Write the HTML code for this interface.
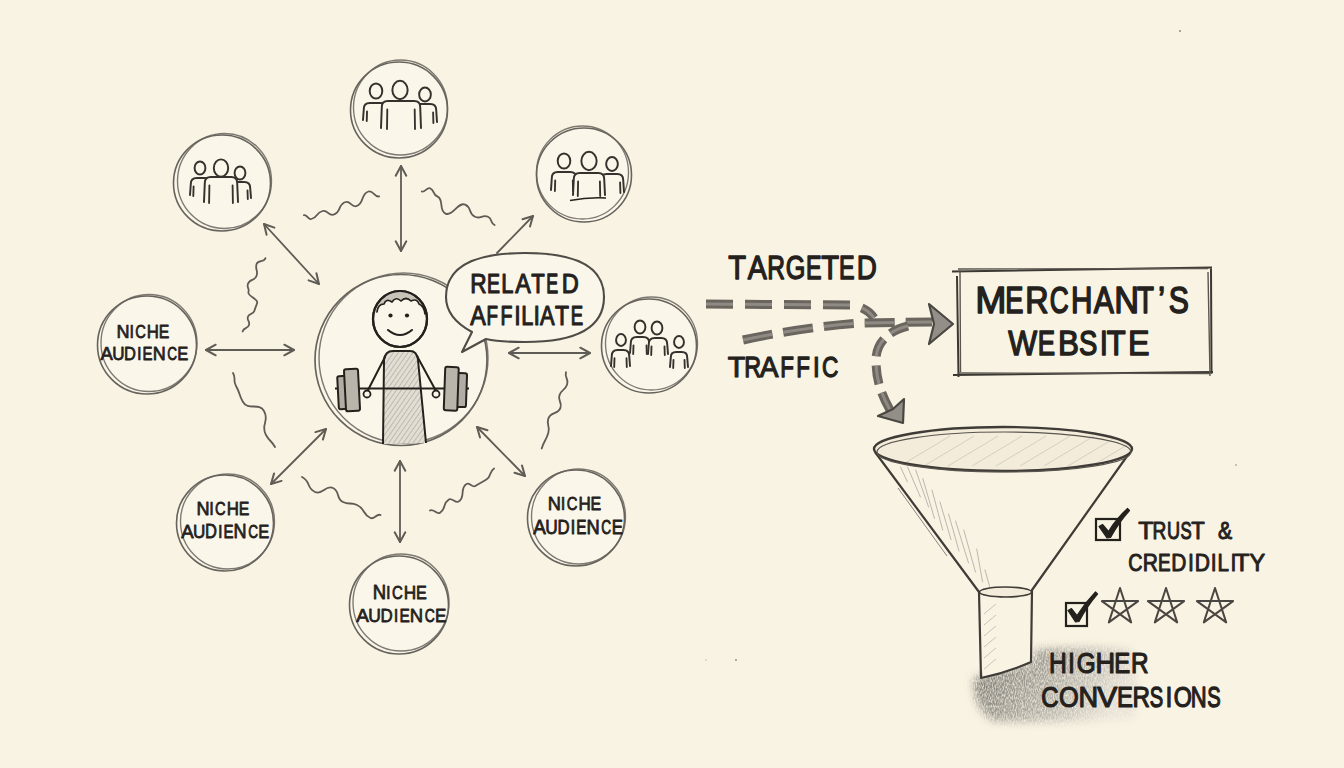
<!DOCTYPE html>
<html><head><meta charset="utf-8"><style>
html,body{margin:0;padding:0;background:#f8f3e2;overflow:hidden;}
svg{display:block;}
text{font-family:"Liberation Sans",sans-serif;}
</style></head><body>
<svg width="1344" height="768" viewBox="0 0 1344 768">
<rect width="1344" height="768" fill="#f8f3e2"/>
<defs><pattern id="hatch" width="4" height="4" patternUnits="userSpaceOnUse" patternTransform="rotate(35)"><rect width="4" height="4" fill="#e3ded3"/><line x1="0" y1="0" x2="0" y2="4" stroke="#aea99f" stroke-width="1.4"/></pattern><pattern id="hatchL" width="5" height="5" patternUnits="userSpaceOnUse" patternTransform="rotate(-60)"><line x1="0" y1="0" x2="0" y2="5" stroke="#d8d3c8" stroke-width="0.8"/></pattern><pattern id="dashT" width="3" height="3" patternUnits="userSpaceOnUse" patternTransform="rotate(-10)"><rect width="3" height="3" fill="#7b7771"/><line x1="0" y1="0" x2="3" y2="0" stroke="#9a958e" stroke-width="1"/></pattern><filter id="blur6" x="-50%" y="-50%" width="200%" height="200%"><feGaussianBlur stdDeviation="7"/></filter><filter id="blur4" x="-50%" y="-50%" width="200%" height="200%"><feGaussianBlur stdDeviation="4.5"/></filter><filter id="pencil" x="-20%" y="-20%" width="140%" height="140%"><feGaussianBlur in="SourceGraphic" stdDeviation="4" result="b"/><feTurbulence type="fractalNoise" baseFrequency="0.9 0.35" numOctaves="2" seed="5" result="n"/><feColorMatrix in="n" type="matrix" values="0 0 0 0 0  0 0 0 0 0  0 0 0 0 0  0 0 0 -1.6 1.5" result="na"/><feComposite in="b" in2="na" operator="in"/></filter><filter id="blur3" x="-50%" y="-50%" width="200%" height="200%"><feGaussianBlur stdDeviation="3"/></filter></defs>
<circle cx="399" cy="110" r="48" fill="#faf6e9"/>
<ellipse cx="399" cy="110" rx="48.5" ry="48" fill="none" stroke="#67635d" stroke-width="1.6"/>
<ellipse cx="400.5" cy="107.5" rx="47" ry="47.5" fill="none" stroke="#67635d" stroke-width="1.36" opacity="0.85"/>
<path d="M363 120 L363.8 109 Q363.8 103 369.8 103 L381.2 103 Q387.2 103 387.2 109 L388 120" fill="#faf6e9" stroke="#35312d" stroke-width="1.95" stroke-linecap="round" stroke-linejoin="round"/>
<path d="M367.05 111.5 L366.75 121 M383.95 111.5 L384.25 121" fill="none" stroke="#35312d" stroke-width="1.8524999999999998" stroke-linecap="round"/>
<ellipse cx="376" cy="91" rx="6.30" ry="7.56" fill="#faf6e9" stroke="#35312d" stroke-width="1.95"/>
<path d="M413 122 L413.8 110 Q413.8 104 419.8 104 L430.2 104 Q436.2 104 436.2 110 L437 122" fill="#faf6e9" stroke="#35312d" stroke-width="1.95" stroke-linecap="round" stroke-linejoin="round"/>
<path d="M416.90000000000003 112.5 L416.6 123 M433.09999999999997 112.5 L433.4 123" fill="none" stroke="#35312d" stroke-width="1.8524999999999998" stroke-linecap="round"/>
<ellipse cx="425" cy="94.5" rx="5.85" ry="7.02" fill="#faf6e9" stroke="#35312d" stroke-width="1.95"/>
<path d="M381 128 L381.8 107 Q381.8 101 387.8 101 L414.2 101 Q420.2 101 420.2 107 L421 128" fill="#faf6e9" stroke="#35312d" stroke-width="1.95" stroke-linecap="round" stroke-linejoin="round"/>
<path d="M387.3 109.5 L387.0 129 M414.7 109.5 L415.0 129" fill="none" stroke="#35312d" stroke-width="1.8524999999999998" stroke-linecap="round"/>
<ellipse cx="400" cy="90" rx="7.65" ry="9.18" fill="#faf6e9" stroke="#35312d" stroke-width="1.95"/>
<circle cx="222" cy="183" r="48" fill="#faf6e9"/>
<ellipse cx="222" cy="183" rx="48.5" ry="48" fill="none" stroke="#67635d" stroke-width="1.6"/>
<ellipse cx="224.5" cy="181.0" rx="47" ry="47.5" fill="none" stroke="#67635d" stroke-width="1.36" opacity="0.85"/>
<path d="M190 195 L190.8 184 Q190.8 178 196.8 178 L205.2 178 Q211.2 178 211.2 184 L212 195" fill="#faf6e9" stroke="#35312d" stroke-width="1.95" stroke-linecap="round" stroke-linejoin="round"/>
<path d="M193.60000000000002 186.5 L193.3 196 M208.39999999999998 186.5 L208.7 196" fill="none" stroke="#35312d" stroke-width="1.8524999999999998" stroke-linecap="round"/>
<ellipse cx="200" cy="168" rx="5.40" ry="6.48" fill="#faf6e9" stroke="#35312d" stroke-width="1.95"/>
<path d="M230 198 L230.8 188 Q230.8 182 236.8 182 L244.2 182 Q250.2 182 250.2 188 L251 198" fill="#faf6e9" stroke="#35312d" stroke-width="1.95" stroke-linecap="round" stroke-linejoin="round"/>
<path d="M233.5 190.5 L233.2 199 M247.5 190.5 L247.8 199" fill="none" stroke="#35312d" stroke-width="1.8524999999999998" stroke-linecap="round"/>
<ellipse cx="240" cy="173" rx="5.40" ry="6.48" fill="#faf6e9" stroke="#35312d" stroke-width="1.95"/>
<path d="M204 202 L204.8 183 Q204.8 177 210.8 177 L231.2 177 Q237.2 177 237.2 183 L238 202" fill="#faf6e9" stroke="#35312d" stroke-width="1.95" stroke-linecap="round" stroke-linejoin="round"/>
<path d="M209.4 185.5 L209.1 203 M232.6 185.5 L232.9 203" fill="none" stroke="#35312d" stroke-width="1.8524999999999998" stroke-linecap="round"/>
<ellipse cx="221" cy="168" rx="7.20" ry="8.64" fill="#faf6e9" stroke="#35312d" stroke-width="1.95"/>
<circle cx="584" cy="175" r="47" fill="#faf6e9"/>
<ellipse cx="584" cy="175" rx="47.5" ry="47" fill="none" stroke="#67635d" stroke-width="1.6"/>
<ellipse cx="582.5" cy="172.5" rx="46" ry="46.5" fill="none" stroke="#67635d" stroke-width="1.36" opacity="0.85"/>
<path d="M551 190 L551.8 178 Q551.8 172 557.8 172 L570.2 172 Q576.2 172 576.2 178 L577 190" fill="#faf6e9" stroke="#35312d" stroke-width="1.95" stroke-linecap="round" stroke-linejoin="round"/>
<path d="M555.1999999999999 180.5 L554.9 191 M572.8000000000001 180.5 L573.1 191" fill="none" stroke="#35312d" stroke-width="1.8524999999999998" stroke-linecap="round"/>
<ellipse cx="564" cy="161" rx="6.30" ry="7.56" fill="#faf6e9" stroke="#35312d" stroke-width="1.95"/>
<path d="M600 192 L600.8 180 Q600.8 174 606.8 174 L617.2 174 Q623.2 174 623.2 180 L624 192" fill="#faf6e9" stroke="#35312d" stroke-width="1.95" stroke-linecap="round" stroke-linejoin="round"/>
<path d="M603.9 182.5 L603.6 193 M620.1 182.5 L620.4 193" fill="none" stroke="#35312d" stroke-width="1.8524999999999998" stroke-linecap="round"/>
<ellipse cx="612" cy="164" rx="5.85" ry="7.02" fill="#faf6e9" stroke="#35312d" stroke-width="1.95"/>
<path d="M573 195 L573.8 179 Q573.8 173 579.8 173 L598.2 173 Q604.2 173 604.2 179 L605 195" fill="#faf6e9" stroke="#35312d" stroke-width="1.95" stroke-linecap="round" stroke-linejoin="round"/>
<path d="M578.0999999999999 181.5 L577.8 196 M599.9000000000001 181.5 L600.2 196" fill="none" stroke="#35312d" stroke-width="1.8524999999999998" stroke-linecap="round"/>
<ellipse cx="589" cy="161" rx="7.65" ry="9.18" fill="#faf6e9" stroke="#35312d" stroke-width="1.95"/>
<path d="M570 200.5 Q588 197 606 198" fill="none" stroke="#24211d" stroke-width="1.6"/>
<circle cx="649" cy="346" r="47" fill="#faf6e9"/>
<ellipse cx="649" cy="346" rx="47.5" ry="47" fill="none" stroke="#67635d" stroke-width="1.6"/>
<ellipse cx="651.5" cy="343.5" rx="46" ry="46.5" fill="none" stroke="#67635d" stroke-width="1.36" opacity="0.85"/>
<path d="M630 353 L630.8 343.0 Q630.8 337 636.8 337 L643.2 337 Q649.2 337 649.2 343.0 L650 353" fill="#faf6e9" stroke="#35312d" stroke-width="1.95" stroke-linecap="round" stroke-linejoin="round"/>
<path d="M633.5 345.5 L633.2 354 M646.5 345.5 L646.8 354" fill="none" stroke="#35312d" stroke-width="1.8524999999999998" stroke-linecap="round"/>
<ellipse cx="640" cy="327" rx="5.40" ry="6.48" fill="#faf6e9" stroke="#35312d" stroke-width="1.95"/>
<path d="M648 354 L648.8 344.0 Q648.8 338 654.8 338 L661.2 338 Q667.2 338 667.2 344.0 L668 354" fill="#faf6e9" stroke="#35312d" stroke-width="1.95" stroke-linecap="round" stroke-linejoin="round"/>
<path d="M651.5 346.5 L651.2 355 M664.5 346.5 L664.8 355" fill="none" stroke="#35312d" stroke-width="1.8524999999999998" stroke-linecap="round"/>
<ellipse cx="657" cy="328" rx="5.40" ry="6.48" fill="#faf6e9" stroke="#35312d" stroke-width="1.95"/>
<path d="M611 366 L611.8 355.7 Q611.8 350 617.5 350 L623.5 350 Q629.2 350 629.2 355.7 L630 366" fill="#faf6e9" stroke="#35312d" stroke-width="1.95" stroke-linecap="round" stroke-linejoin="round"/>
<path d="M614.5 358.2 L614.2 367 M626.5 358.2 L626.8 367" fill="none" stroke="#35312d" stroke-width="1.8524999999999998" stroke-linecap="round"/>
<ellipse cx="621" cy="340" rx="4.95" ry="5.94" fill="#faf6e9" stroke="#35312d" stroke-width="1.95"/>
<path d="M670 367 L670.8 357.4 Q670.8 352 676.1999999999999 352 L681.8000000000001 352 Q687.2 352 687.2 357.4 L688 367" fill="#faf6e9" stroke="#35312d" stroke-width="1.95" stroke-linecap="round" stroke-linejoin="round"/>
<path d="M673.5 359.9 L673.2 368 M684.5 359.9 L684.8 368" fill="none" stroke="#35312d" stroke-width="1.8524999999999998" stroke-linecap="round"/>
<ellipse cx="679" cy="342" rx="4.95" ry="5.94" fill="#faf6e9" stroke="#35312d" stroke-width="1.95"/>
<circle cx="147" cy="345" r="49" fill="#faf6e9"/>
<ellipse cx="147" cy="345" rx="49.5" ry="49" fill="none" stroke="#67635d" stroke-width="1.6"/>
<ellipse cx="149.0" cy="343.0" rx="48" ry="48.5" fill="none" stroke="#67635d" stroke-width="1.36" opacity="0.85"/>
<circle cx="225" cy="523" r="48" fill="#faf6e9"/>
<ellipse cx="225" cy="523" rx="48.5" ry="48" fill="none" stroke="#67635d" stroke-width="1.6"/>
<ellipse cx="227.5" cy="521.5" rx="47" ry="47.5" fill="none" stroke="#67635d" stroke-width="1.36" opacity="0.85"/>
<circle cx="399" cy="605" r="49" fill="#faf6e9"/>
<ellipse cx="399" cy="605" rx="49.5" ry="49" fill="none" stroke="#67635d" stroke-width="1.6"/>
<ellipse cx="401.0" cy="602.5" rx="48" ry="48.5" fill="none" stroke="#67635d" stroke-width="1.36" opacity="0.85"/>
<circle cx="576" cy="518" r="48" fill="#faf6e9"/>
<ellipse cx="576" cy="518" rx="48.5" ry="48" fill="none" stroke="#67635d" stroke-width="1.6"/>
<ellipse cx="578.5" cy="516.5" rx="47" ry="47.5" fill="none" stroke="#67635d" stroke-width="1.36" opacity="0.85"/>
<circle cx="401" cy="360" r="85.5" fill="#faf6e9"/>
<ellipse cx="401" cy="360" rx="86.0" ry="85.5" fill="none" stroke="#67635d" stroke-width="1.7"/>
<ellipse cx="403.5" cy="358.0" rx="84.5" ry="85.0" fill="none" stroke="#67635d" stroke-width="1.4449999999999998" opacity="0.85"/>
<path d="M383 444 L384 360 Q385 351 393 351 L410 351 Q417 351 418 360 L426 443" fill="url(#hatch)" stroke="#24211d" stroke-width="2"/>
<path d="M385 357 L367 392 M417 356 L436 391" stroke="#24211d" stroke-width="2" fill="none" stroke-linecap="round"/>
<line x1="335" y1="388.5" x2="469" y2="388.5" stroke="#24211d" stroke-width="2.2"/>
<circle cx="367" cy="394" r="3.5" fill="#faf6e9" stroke="#24211d" stroke-width="1.8"/>
<circle cx="436" cy="394" r="3.5" fill="#faf6e9" stroke="#24211d" stroke-width="1.8"/>
<rect x="338" y="376" width="10" height="33" rx="2" transform="rotate(-3 343 392)" fill="#b2ada4" stroke="#24211d" stroke-width="2"/>
<rect x="345" y="369" width="14" height="42" rx="2" transform="rotate(-3 352 390)" fill="#bab5ab" stroke="#24211d" stroke-width="2"/>
<rect x="457" y="373" width="9.5" height="34" rx="2" transform="rotate(2 461 390)" fill="#b2ada4" stroke="#24211d" stroke-width="2"/>
<rect x="444.5" y="367" width="13.5" height="43.5" rx="2" transform="rotate(2 451 389)" fill="#bab5ab" stroke="#24211d" stroke-width="2"/>
<ellipse cx="400" cy="319" rx="27" ry="28" fill="#faf6e9" stroke="#24211d" stroke-width="2.2"/>
<clipPath id="headclip"><ellipse cx="400" cy="319" rx="26" ry="27"/></clipPath>
<path d="M370 314 L377 312 Q378 304 384 304 Q386 298 392 302 Q396 296 401 301 Q406 296 411 301 Q417 298 419 304 Q424 306 425 314 L432 316 L432 285 L370 285 Z" fill="#c9c4ba" clip-path="url(#headclip)"/>
<path d="M377 312 Q378 304 384 304 Q386 298 392 302 Q396 296 401 301 Q406 296 411 301 Q417 298 419 304 Q424 306 425 314" fill="none" stroke="#24211d" stroke-width="1.7" stroke-linejoin="round" stroke-linecap="round"/>
<ellipse cx="400" cy="319" rx="27" ry="28" fill="none" stroke="#24211d" stroke-width="2.2"/>
<circle cx="390.5" cy="315.5" r="2.1" fill="#24211d"/><circle cx="407" cy="315.5" r="2.1" fill="#24211d"/>
<path d="M388 330 Q400 340 412 330" fill="none" stroke="#24211d" stroke-width="2.1" stroke-linecap="round"/>
<path d="M472 332 Q446 318 446 297 Q446 253 525 253 Q604 253 604 297 Q604 342 525 342 Q500 342 486 339 L462 352 Z" fill="#faf6e9" stroke="#4f4b46" stroke-width="2.1" stroke-linejoin="round"/>
<line x1="401" y1="166" x2="401" y2="251" stroke="#5f5b55" stroke-width="1.8" stroke-linecap="round"/>
<path d="M395.7 241.3 L401 251 L406.3 241.3" fill="none" stroke="#5f5b55" stroke-width="2.0" stroke-linecap="round" stroke-linejoin="round"/>
<path d="M406.3 175.7 L401 166 L395.7 175.7" fill="none" stroke="#5f5b55" stroke-width="2.0" stroke-linecap="round" stroke-linejoin="round"/>
<line x1="264" y1="224" x2="319" y2="284" stroke="#5f5b55" stroke-width="1.8" stroke-linecap="round"/>
<path d="M308.6 280.4 L319 284 L316.4 273.3" fill="none" stroke="#5f5b55" stroke-width="2.0" stroke-linecap="round" stroke-linejoin="round"/>
<path d="M274.4 227.6 L264 224 L266.6 234.7" fill="none" stroke="#5f5b55" stroke-width="2.0" stroke-linecap="round" stroke-linejoin="round"/>
<line x1="497" y1="253" x2="533" y2="216" stroke="#5f5b55" stroke-width="1.8" stroke-linecap="round"/>
<path d="M530.0 226.6 L533 216 L522.5 219.2" fill="none" stroke="#5f5b55" stroke-width="2.0" stroke-linecap="round" stroke-linejoin="round"/>
<line x1="206" y1="350" x2="294" y2="350" stroke="#5f5b55" stroke-width="1.8" stroke-linecap="round"/>
<path d="M284.3 355.3 L294 350 L284.3 344.7" fill="none" stroke="#5f5b55" stroke-width="2.0" stroke-linecap="round" stroke-linejoin="round"/>
<path d="M215.7 344.7 L206 350 L215.7 355.3" fill="none" stroke="#5f5b55" stroke-width="2.0" stroke-linecap="round" stroke-linejoin="round"/>
<line x1="509" y1="353" x2="590" y2="353" stroke="#5f5b55" stroke-width="1.8" stroke-linecap="round"/>
<path d="M580.3 358.3 L590 353 L580.3 347.7" fill="none" stroke="#5f5b55" stroke-width="2.0" stroke-linecap="round" stroke-linejoin="round"/>
<path d="M518.7 347.7 L509 353 L518.7 358.3" fill="none" stroke="#5f5b55" stroke-width="2.0" stroke-linecap="round" stroke-linejoin="round"/>
<line x1="271" y1="484" x2="326" y2="429" stroke="#5f5b55" stroke-width="1.8" stroke-linecap="round"/>
<path d="M322.9 439.6 L326 429 L315.4 432.1" fill="none" stroke="#5f5b55" stroke-width="2.0" stroke-linecap="round" stroke-linejoin="round"/>
<path d="M274.1 473.4 L271 484 L281.6 480.9" fill="none" stroke="#5f5b55" stroke-width="2.0" stroke-linecap="round" stroke-linejoin="round"/>
<line x1="477" y1="427" x2="525" y2="476" stroke="#5f5b55" stroke-width="1.8" stroke-linecap="round"/>
<path d="M514.5 472.8 L525 476 L522.0 465.4" fill="none" stroke="#5f5b55" stroke-width="2.0" stroke-linecap="round" stroke-linejoin="round"/>
<path d="M487.5 430.2 L477 427 L480.0 437.6" fill="none" stroke="#5f5b55" stroke-width="2.0" stroke-linecap="round" stroke-linejoin="round"/>
<line x1="400" y1="461" x2="400" y2="542" stroke="#5f5b55" stroke-width="1.8" stroke-linecap="round"/>
<path d="M394.7 532.3 L400 542 L405.3 532.3" fill="none" stroke="#5f5b55" stroke-width="2.0" stroke-linecap="round" stroke-linejoin="round"/>
<path d="M405.3 470.7 L400 461 L394.7 470.7" fill="none" stroke="#5f5b55" stroke-width="2.0" stroke-linecap="round" stroke-linejoin="round"/>
<path d="M303.9 215.2 C307.2 214.4 308.0 219.8 311.3 219.0 C318.2 217.3 315.8 212.7 322.7 211.0 C327.8 209.7 328.3 216.0 333.4 214.7 C341.4 212.7 337.7 204.0 345.7 202.0 C350.6 200.8 351.4 207.4 356.3 206.2 C364.6 204.1 360.3 193.6 368.6 191.5 C373.5 190.3 374.3 197.6 379.2 196.4" fill="none" stroke="#5f5b55" stroke-width="1.8" stroke-linecap="round" stroke-linejoin="round"/>
<path d="M421.8 191.5 C424.8 192.9 427.0 186.8 430.0 188.2 C435.0 190.5 432.3 194.1 437.3 196.4 C444.6 199.8 438.2 210.2 445.5 213.6 C452.6 216.8 458.1 201.4 465.2 204.6 C472.2 207.8 468.0 213.6 475.0 216.8 C480.9 219.5 482.1 214.1 488.0 216.8 C492.7 219.0 489.9 222.8 494.6 225.0" fill="none" stroke="#5f5b55" stroke-width="1.8" stroke-linecap="round" stroke-linejoin="round"/>
<path d="M265.4 258.2 C264.1 262.5 257.9 259.7 256.6 264.0 C254.8 269.9 258.4 269.9 256.6 275.8 C254.9 281.3 249.6 278.5 247.9 284.0 C246.6 288.0 249.7 288.2 248.4 292.2 C247.2 296.1 258.4 298.8 257.2 302.7 C255.8 307.3 255.7 306.4 254.3 311.0 C253.1 314.9 249.1 312.9 247.9 316.8 C246.7 320.7 250.2 321.1 249.0 325.0 C247.7 329.2 243.9 327.2 242.6 331.4" fill="none" stroke="#5f5b55" stroke-width="1.8" stroke-linecap="round" stroke-linejoin="round"/>
<path d="M233.0 373.0 C236.5 379.1 232.5 379.9 236.0 386.0 C240.7 394.3 238.3 393.7 243.0 402.0 C247.9 410.7 259.1 402.3 264.0 411.0 C269.9 421.5 260.1 424.5 266.0 435.0 C270.0 442.1 271.0 439.9 275.0 447.0" fill="none" stroke="#5f5b55" stroke-width="1.8" stroke-linecap="round" stroke-linejoin="round"/>
<path d="M302.0 477.0 C311.0 481.4 306.0 487.6 315.0 492.0 C322.2 495.5 325.8 484.5 333.0 488.0 C340.5 491.6 335.5 498.4 343.0 502.0 C349.9 505.3 350.1 501.7 357.0 505.0 C365.8 509.3 361.7 513.7 370.5 518.0 C374.3 519.8 376.7 513.2 380.5 515.0" fill="none" stroke="#5f5b55" stroke-width="1.8" stroke-linecap="round" stroke-linejoin="round"/>
<path d="M430.0 510.5 C433.3 508.3 436.7 514.9 440.0 512.7 C446.7 508.3 442.1 503.8 448.8 499.4 C452.0 497.3 455.5 503.7 458.7 501.6 C466.1 496.7 459.1 488.9 466.5 484.0 C469.4 482.1 472.4 487.9 475.3 486.0 C481.2 482.1 480.5 483.4 486.4 479.5 C492.2 475.7 488.3 472.2 494.1 468.4" fill="none" stroke="#5f5b55" stroke-width="1.8" stroke-linecap="round" stroke-linejoin="round"/>
<path d="M566.0 372.2 C564.1 378.1 569.1 378.4 567.2 384.3 C565.0 391.1 561.6 388.6 559.4 395.4 C557.5 401.3 562.4 401.7 560.5 407.6 C558.1 415.0 550.7 411.2 548.3 418.6 C546.0 425.8 550.6 425.8 548.3 433.0 C545.5 441.8 544.5 439.7 541.7 448.5" fill="none" stroke="#5f5b55" stroke-width="1.8" stroke-linecap="round" stroke-linejoin="round"/>
<path d="M706 304 L850 305 C862 306 870 312 874 318" fill="none" stroke="#6a665f" stroke-width="9" stroke-dasharray="27 12"/>
<path d="M706 304 L850 305 C862 306 870 312 874 318" fill="none" stroke="#98948c" stroke-width="3" stroke-dasharray="27 12" opacity="0.8"/>
<path d="M743 340 C780 332 820 326 860 323 L932 322" fill="none" stroke="#6a665f" stroke-width="9" stroke-dasharray="30 11"/>
<path d="M743 340 C780 332 820 326 860 323 L932 322" fill="none" stroke="#98948c" stroke-width="3" stroke-dasharray="30 11" opacity="0.8"/>
<path d="M908 326 C890 330 876 342 876 360 C876 378 880 392 890 410" fill="none" stroke="#6a665f" stroke-width="9" stroke-dasharray="19 9"/>
<path d="M908 326 C890 330 876 342 876 360 C876 378 880 392 890 410" fill="none" stroke="#98948c" stroke-width="3" stroke-dasharray="19 9" opacity="0.8"/>
<path d="M929 304 L953 324 L929 344 L934 324 Z" fill="#938f88" stroke="#4a4641" stroke-width="2.2" stroke-linejoin="round"/>
<path d="M878 416 L903 423 L904 399 L893 409 Z" fill="#938f88" stroke="#4a4641" stroke-width="2.2" stroke-linejoin="round"/>
<path d="M952 271.5 L1212 267.5 M957 276 L958.5 377 M1211 268 L1211.5 374 M953 375 L1213 372" fill="none" stroke="#3b3733" stroke-width="2"/>
<path d="M958 269 L1208 268.5 M960 270 L960.5 372 M1208 272 L1210 376 M958 373 L1210 373.5" fill="none" stroke="#5a564f" stroke-width="1.4"/>
<linearGradient id="shg" x1="0" y1="0" x2="1" y2="0.3"><stop offset="0" stop-color="#6f6c67"/><stop offset="0.35" stop-color="#95928b"/><stop offset="0.75" stop-color="#c2beb5"/><stop offset="1" stop-color="#e6e1d6"/></linearGradient>
<path d="M974 678 L1032 662 L1036 649 Q1090 645 1132 650 Q1142 684 1134 718 Q1060 724 992 721 Q972 706 974 678 Z" fill="url(#shg)" filter="url(#pencil)"/>
<path d="M875 452 L979 592 L983 677 Q1005 672 1030 662 L1032 590 L1130 452 Z" fill="#f8f3e3" stroke="none"/>
<path d="M900.5 467 L907.5 482 M907.5 467 L920.4 497 M915.7 470 L928.6 507 M922.8 478.6 L934.5 518.5 M932 490 L942.7 530 M940 502 L951 539.6 M948.6 514 L959 551 M955.6 521 L968.5 563 M963.8 530 L975.5 572 M976.7 549 L982.6 582 M985 570 L989.6 586.5" fill="none" stroke="#b5b0a6" stroke-width="0.9" stroke-linecap="round"/>
<path d="M898 488 L947 556" fill="none" stroke="#8a857e" stroke-width="1"/>
<path d="M984.0 614.0 L996.0 604.0 M984.0 625.0 L996.0 615.0 M984.0 636.0 L996.0 626.0 M984.0 647.0 L996.0 637.0 M984.0 658.0 L996.0 648.0 M984.0 669.0 L996.0 659.0" fill="none" stroke="#c3beb4" stroke-width="0.9"/>
<path d="M875 452 L979 592 L981 678 Q1006 673 1031 662 L1032 590 L1130 452" fill="none" stroke="#3f3b37" stroke-width="2.2" stroke-linejoin="round"/>
<ellipse cx="1003" cy="449" rx="129" ry="22" fill="#f3ecda"/>
<clipPath id="rimclip"><ellipse cx="1003" cy="449" rx="126" ry="20"/></clipPath>
<path d="M900.0 466.0 L950.0 436.0 M924.0 466.0 L974.0 436.0 M948.0 466.0 L998.0 436.0 M972.0 466.0 L1022.0 436.0 M996.0 466.0 L1046.0 436.0 M1020.0 466.0 L1070.0 436.0 M1044.0 466.0 L1094.0 436.0 M1068.0 466.0 L1118.0 436.0 M1092.0 466.0 L1142.0 436.0" fill="none" stroke="#cdc8bd" stroke-width="0.8" clip-path="url(#rimclip)"/>
<ellipse cx="1003" cy="449" rx="129" ry="22" fill="none" stroke="#3f3b37" stroke-width="2.4"/>
<ellipse cx="1004" cy="452" rx="127" ry="20" fill="none" stroke="#5a564f" stroke-width="1.2"/>
<ellipse cx="1005.5" cy="592" rx="26" ry="5" fill="#f3ecda" stroke="#3f3b37" stroke-width="1.6"/>
<rect x="1096" y="519" width="24" height="21" fill="none" stroke="#24211d" stroke-width="2.2"/>
<path d="M1099 526.5 L1102.5 524.5 L1108.5 531.5 Q1116 519 1127.5 508.5 L1129.5 510.5 Q1119 522 1110.5 537.5 L1107 538 Z" fill="#24211d" stroke="#24211d" stroke-width="1.2" stroke-linejoin="round"/>
<rect x="1066" y="603" width="21" height="23" fill="none" stroke="#24211d" stroke-width="2.2"/>
<path d="M1068 610.5 L1071.5 608.5 L1077 615.5 Q1085 603 1095.5 592 L1097.5 594 Q1087 606 1079 621.5 L1075.5 622 Z" fill="#24211d" stroke="#24211d" stroke-width="1.2" stroke-linejoin="round"/>
<path d="M1120.0 588.0 L1131.2 622.4 L1101.9 601.1 L1138.1 601.1 L1108.8 622.4 Z" fill="none" stroke="#4a4641" stroke-width="2" stroke-linejoin="round"/>
<path d="M1166.0 588.0 L1177.2 622.4 L1147.9 601.1 L1184.1 601.1 L1154.8 622.4 Z" fill="none" stroke="#4a4641" stroke-width="2" stroke-linejoin="round"/>
<path d="M1215.0 588.0 L1226.2 622.4 L1196.9 601.1 L1233.1 601.1 L1203.8 622.4 Z" fill="none" stroke="#4a4641" stroke-width="2" stroke-linejoin="round"/>
<g fill="#24211d" stroke="#24211d" stroke-width="1.04" stroke-linejoin="round"><text transform="translate(470.36 293.2818098174364) scale(0.831 1)" font-size="27.27" stroke-width="1.13">R</text><text transform="translate(487.02 293.2818098174364) scale(0.715 1)" font-size="27.27" stroke-width="1.21">E</text><text transform="translate(501.32 293.2818098174364) scale(0.804 1)" font-size="27.27" stroke-width="1.15">L</text><text transform="translate(515.17 293.2818098174364) scale(0.855 1)" font-size="27.27" stroke-width="1.12">A</text><text transform="translate(531.22 293.2818098174364) scale(0.808 1)" font-size="27.27" stroke-width="1.15">T</text><text transform="translate(546.16 293.2818098174364) scale(0.654 1)" font-size="27.27" stroke-width="1.25">E</text><text transform="translate(561.68 293.2818098174364) scale(0.864 1)" font-size="27.27" stroke-width="1.11">D</text></g>
<g fill="#24211d" stroke="#24211d" stroke-width="1.04" stroke-linejoin="round"><text transform="translate(470.17 325.0818098174364) scale(0.855 1)" font-size="27.27" stroke-width="1.12">A</text><text transform="translate(486.58 325.0818098174364) scale(0.687 1)" font-size="27.27" stroke-width="1.23">F</text><text transform="translate(500.61 325.0818098174364) scale(0.717 1)" font-size="27.27" stroke-width="1.21">F</text><text transform="translate(517.40 325.0818098174364) scale(0.85 1)" x="-3.79" font-size="27.27">I</text><text transform="translate(521.24 325.0818098174364) scale(0.795 1)" font-size="27.27" stroke-width="1.15">L</text><text transform="translate(536.70 325.0818098174364) scale(0.85 1)" x="-3.79" font-size="27.27">I</text><text transform="translate(539.88 325.0818098174364) scale(0.800 1)" font-size="27.27" stroke-width="1.15">A</text><text transform="translate(554.90 325.0818098174364) scale(0.841 1)" font-size="27.27" stroke-width="1.13">T</text><text transform="translate(570.80 325.0818098174364) scale(0.681 1)" font-size="27.27" stroke-width="1.23">E</text></g>
<g fill="#24211d" stroke="#24211d" stroke-width="0.72" stroke-linejoin="round"><text transform="translate(116.58 337.73883714548595) scale(0.949 1)" font-size="19.01" stroke-width="0.74">N</text><text transform="translate(131.65 337.73883714548595) scale(0.85 1)" x="-2.64" font-size="19.01">I</text><text transform="translate(135.22 337.73883714548595) scale(0.771 1)" font-size="19.01" stroke-width="0.82">C</text><text transform="translate(146.78 337.73883714548595) scale(0.883 1)" font-size="19.01" stroke-width="0.77">H</text><text transform="translate(158.76 337.73883714548595) scale(0.833 1)" font-size="19.01" stroke-width="0.79">E</text></g>
<g fill="#24211d" stroke="#24211d" stroke-width="0.73" stroke-linejoin="round"><text transform="translate(100.53 360.4336029012176) scale(0.959 1)" font-size="19.28" stroke-width="0.75">A</text><text transform="translate(112.25 360.4336029012176) scale(0.883 1)" font-size="19.28" stroke-width="0.78">U</text><text transform="translate(124.11 360.4336029012176) scale(0.855 1)" font-size="19.28" stroke-width="0.79">D</text><text transform="translate(139.30 360.4336029012176) scale(0.85 1)" x="-2.68" font-size="19.28">I</text><text transform="translate(142.53 360.4336029012176) scale(0.781 1)" font-size="19.28" stroke-width="0.82">E</text><text transform="translate(152.69 360.4336029012176) scale(0.935 1)" font-size="19.28" stroke-width="0.76">N</text><text transform="translate(167.18 360.4336029012176) scale(0.702 1)" font-size="19.28" stroke-width="0.86">C</text><text transform="translate(177.31 360.4336029012176) scale(0.858 1)" font-size="19.28" stroke-width="0.79">E</text></g>
<g fill="#24211d" stroke="#24211d" stroke-width="0.73" stroke-linejoin="round"><text transform="translate(196.38 514.6336029012176) scale(0.938 1)" font-size="19.28" stroke-width="0.76">N</text><text transform="translate(211.50 514.6336029012176) scale(0.85 1)" x="-2.68" font-size="19.28">I</text><text transform="translate(215.09 514.6336029012176) scale(0.762 1)" font-size="19.28" stroke-width="0.83">C</text><text transform="translate(226.70 514.6336029012176) scale(0.873 1)" font-size="19.28" stroke-width="0.78">H</text><text transform="translate(238.73 514.6336029012176) scale(0.823 1)" font-size="19.28" stroke-width="0.80">E</text></g>
<g fill="#24211d" stroke="#24211d" stroke-width="0.73" stroke-linejoin="round"><text transform="translate(181.33 537.6336029012176) scale(0.962 1)" font-size="19.28" stroke-width="0.75">A</text><text transform="translate(193.08 537.6336029012176) scale(0.885 1)" font-size="19.28" stroke-width="0.78">U</text><text transform="translate(204.97 537.6336029012176) scale(0.857 1)" font-size="19.28" stroke-width="0.79">D</text><text transform="translate(220.19 537.6336029012176) scale(0.85 1)" x="-2.68" font-size="19.28">I</text><text transform="translate(223.43 537.6336029012176) scale(0.783 1)" font-size="19.28" stroke-width="0.82">E</text><text transform="translate(233.61 537.6336029012176) scale(0.937 1)" font-size="19.28" stroke-width="0.76">N</text><text transform="translate(248.13 537.6336029012176) scale(0.703 1)" font-size="19.28" stroke-width="0.86">C</text><text transform="translate(258.28 537.6336029012176) scale(0.860 1)" font-size="19.28" stroke-width="0.79">E</text></g>
<g fill="#24211d" stroke="#24211d" stroke-width="0.73" stroke-linejoin="round"><text transform="translate(372.85 598.6336029012176) scale(0.958 1)" font-size="19.28" stroke-width="0.75">N</text><text transform="translate(388.28 598.6336029012176) scale(0.85 1)" x="-2.68" font-size="19.28">I</text><text transform="translate(391.92 598.6336029012176) scale(0.778 1)" font-size="19.28" stroke-width="0.82">C</text><text transform="translate(403.76 598.6336029012176) scale(0.892 1)" font-size="19.28" stroke-width="0.77">H</text><text transform="translate(416.02 598.6336029012176) scale(0.841 1)" font-size="19.28" stroke-width="0.80">E</text></g>
<g fill="#24211d" stroke="#24211d" stroke-width="0.73" stroke-linejoin="round"><text transform="translate(356.33 621.6336029012176) scale(0.985 1)" font-size="19.28" stroke-width="0.74">A</text><text transform="translate(368.34 621.6336029012176) scale(0.907 1)" font-size="19.28" stroke-width="0.77">U</text><text transform="translate(380.50 621.6336029012176) scale(0.878 1)" font-size="19.28" stroke-width="0.78">D</text><text transform="translate(396.08 621.6336029012176) scale(0.85 1)" x="-2.68" font-size="19.28">I</text><text transform="translate(399.38 621.6336029012176) scale(0.803 1)" font-size="19.28" stroke-width="0.81">E</text><text transform="translate(409.79 621.6336029012176) scale(0.960 1)" font-size="19.28" stroke-width="0.75">N</text><text transform="translate(424.65 621.6336029012176) scale(0.721 1)" font-size="19.28" stroke-width="0.85">C</text><text transform="translate(435.03 621.6336029012176) scale(0.881 1)" font-size="19.28" stroke-width="0.78">E</text></g>
<g fill="#24211d" stroke="#24211d" stroke-width="0.73" stroke-linejoin="round"><text transform="translate(547.87 509.6336029012176) scale(0.948 1)" font-size="19.28" stroke-width="0.75">N</text><text transform="translate(563.14 509.6336029012176) scale(0.85 1)" x="-2.68" font-size="19.28">I</text><text transform="translate(566.76 509.6336029012176) scale(0.770 1)" font-size="19.28" stroke-width="0.83">C</text><text transform="translate(578.48 509.6336029012176) scale(0.882 1)" font-size="19.28" stroke-width="0.78">H</text><text transform="translate(590.62 509.6336029012176) scale(0.832 1)" font-size="19.28" stroke-width="0.80">E</text></g>
<g fill="#24211d" stroke="#24211d" stroke-width="0.79" stroke-linejoin="round"><text transform="translate(533.36 533.6074316798761) scale(0.910 1)" font-size="20.66" stroke-width="0.82">A</text><text transform="translate(545.31 533.6074316798761) scale(0.837 1)" font-size="20.66" stroke-width="0.85">U</text><text transform="translate(557.40 533.6074316798761) scale(0.810 1)" font-size="20.66" stroke-width="0.87">D</text><text transform="translate(572.86 533.6074316798761) scale(0.85 1)" x="-2.87" font-size="20.66">I</text><text transform="translate(576.17 533.6074316798761) scale(0.740 1)" font-size="20.66" stroke-width="0.90">E</text><text transform="translate(586.53 533.6074316798761) scale(0.886 1)" font-size="20.66" stroke-width="0.83">N</text><text transform="translate(601.30 533.6074316798761) scale(0.664 1)" font-size="20.66" stroke-width="0.94">C</text><text transform="translate(611.63 533.6074316798761) scale(0.813 1)" font-size="20.66" stroke-width="0.87">E</text></g>
<g fill="#24211d" stroke="#24211d" stroke-width="1.23" stroke-linejoin="round"><text transform="translate(728.16 278.58497629847244) scale(0.900 1)" font-size="32.37" stroke-width="1.29">T</text><text transform="translate(747.76 278.58497629847244) scale(0.884 1)" font-size="32.37" stroke-width="1.31">A</text><text transform="translate(767.30 278.58497629847244) scale(0.758 1)" font-size="32.37" stroke-width="1.40">R</text><text transform="translate(785.75 278.58497629847244) scale(0.779 1)" font-size="32.37" stroke-width="1.38">G</text><text transform="translate(806.00 278.58497629847244) scale(0.722 1)" font-size="32.37" stroke-width="1.43">E</text><text transform="translate(821.16 278.58497629847244) scale(0.900 1)" font-size="32.37" stroke-width="1.29">T</text><text transform="translate(838.90 278.58497629847244) scale(0.722 1)" font-size="32.37" stroke-width="1.43">E</text><text transform="translate(856.83 278.58497629847244) scale(0.859 1)" font-size="32.37" stroke-width="1.32">D</text></g>
<g fill="#24211d" stroke="#24211d" stroke-width="1.15" stroke-linejoin="round"><text transform="translate(727.63 376.9242331304848) scale(0.948 1)" font-size="30.30" stroke-width="1.18">T</text><text transform="translate(744.26 376.9242331304848) scale(0.770 1)" font-size="30.30" stroke-width="1.30">R</text><text transform="translate(759.72 376.9242331304848) scale(0.928 1)" font-size="30.30" stroke-width="1.19">A</text><text transform="translate(780.14 376.9242331304848) scale(0.739 1)" font-size="30.30" stroke-width="1.32">F</text><text transform="translate(796.14 376.9242331304848) scale(0.739 1)" font-size="30.30" stroke-width="1.32">F</text><text transform="translate(816.25 376.9242331304848) scale(0.85 1)" x="-4.21" font-size="30.30">I</text><text transform="translate(821.93 376.9242331304848) scale(0.748 1)" font-size="30.30" stroke-width="1.32">C</text></g>
<g fill="#24211d" stroke="#24211d" stroke-width="1.43" stroke-linejoin="round"><text transform="translate(975.34 313.4829085352402) scale(0.993 1)" font-size="37.74" stroke-width="1.44">M</text><text transform="translate(1005.28 313.4829085352402) scale(0.722 1)" font-size="37.74" stroke-width="1.67">E</text><text transform="translate(1025.37 313.4829085352402) scale(0.855 1)" font-size="37.74" stroke-width="1.55">R</text><text transform="translate(1049.79 313.4829085352402) scale(0.693 1)" font-size="37.74" stroke-width="1.69">C</text><text transform="translate(1070.98 313.4829085352402) scale(0.786 1)" font-size="37.74" stroke-width="1.61">H</text><text transform="translate(1093.86 313.4829085352402) scale(0.798 1)" font-size="37.74" stroke-width="1.60">A</text><text transform="translate(1114.20 313.4829085352402) scale(0.909 1)" font-size="37.74" stroke-width="1.50">N</text><text transform="translate(1136.99 313.4829085352402) scale(0.734 1)" font-size="37.74" stroke-width="1.65">T</text><text transform="translate(1161.50 313.4829085352402) scale(0.85 1)" x="-4.19" font-size="37.74">’</text><text transform="translate(1168.75 313.4829085352402) scale(0.799 1)" font-size="37.74" stroke-width="1.59">S</text></g>
<g fill="#24211d" stroke="#24211d" stroke-width="1.31" stroke-linejoin="round"><text transform="translate(1008.22 354.84571946646) scale(0.887 1)" font-size="34.44" stroke-width="1.39">W</text><text transform="translate(1037.82 354.84571946646) scale(0.755 1)" font-size="34.44" stroke-width="1.49">E</text><text transform="translate(1057.88 354.84571946646) scale(0.911 1)" font-size="34.44" stroke-width="1.37">B</text><text transform="translate(1078.91 354.84571946646) scale(0.797 1)" font-size="34.44" stroke-width="1.46">S</text><text transform="translate(1103.90 354.84571946646) scale(0.85 1)" x="-4.78" font-size="34.44">I</text><text transform="translate(1106.86 354.84571946646) scale(0.898 1)" font-size="34.44" stroke-width="1.38">T</text><text transform="translate(1128.01 354.84571946646) scale(0.937 1)" font-size="34.44" stroke-width="1.35">E</text></g>
<g fill="#24211d" stroke="#24211d" stroke-width="0.94" stroke-linejoin="round"><text transform="translate(1138.31 539.1315351379855) scale(1.016 1)" font-size="24.66" stroke-width="0.93">T</text><text transform="translate(1152.40 539.1315351379855) scale(0.776 1)" font-size="24.66" stroke-width="1.05">R</text><text transform="translate(1167.07 539.1315351379855) scale(0.733 1)" font-size="24.66" stroke-width="1.08">U</text><text transform="translate(1180.51 539.1315351379855) scale(0.681 1)" font-size="24.66" stroke-width="1.11">S</text><text transform="translate(1191.37 539.1315351379855) scale(0.894 1)" font-size="24.66" stroke-width="0.99">T</text><text transform="translate(1217.92 539.1315351379855) scale(0.860 1)" font-size="24.66" stroke-width="1.01">&amp;</text></g>
<g fill="#24211d" stroke="#24211d" stroke-width="0.94" stroke-linejoin="round"><text transform="translate(1128.37 570.5289180158512) scale(0.793 1)" font-size="24.79" stroke-width="1.05">C</text><text transform="translate(1142.75 570.5289180158512) scale(0.846 1)" font-size="24.79" stroke-width="1.02">R</text><text transform="translate(1157.92 570.5289180158512) scale(0.763 1)" font-size="24.79" stroke-width="1.07">E</text><text transform="translate(1171.26 570.5289180158512) scale(0.842 1)" font-size="24.79" stroke-width="1.02">D</text><text transform="translate(1190.85 570.5289180158512) scale(0.85 1)" x="-3.44" font-size="24.79">I</text><text transform="translate(1194.65 570.5289180158512) scale(0.848 1)" font-size="24.79" stroke-width="1.02">D</text><text transform="translate(1213.75 570.5289180158512) scale(0.85 1)" x="-3.44" font-size="24.79">I</text><text transform="translate(1217.59 570.5289180158512) scale(0.829 1)" font-size="24.79" stroke-width="1.03">L</text><text transform="translate(1233.30 570.5289180158512) scale(0.85 1)" x="-3.44" font-size="24.79">I</text><text transform="translate(1234.31 570.5289180158512) scale(1.010 1)" font-size="24.79" stroke-width="0.94">T</text><text transform="translate(1249.45 570.5289180158512) scale(0.949 1)" font-size="24.79" stroke-width="0.97">Y</text></g>
<g fill="#24211d" stroke="#24211d" stroke-width="1.11" stroke-linejoin="round"><text transform="translate(1049.03 672.7425529854239) scale(0.841 1)" font-size="29.34" stroke-width="1.21">H</text><text transform="translate(1071.40 672.7425529854239) scale(0.85 1)" x="-4.08" font-size="29.34">I</text><text transform="translate(1076.73 672.7425529854239) scale(0.829 1)" font-size="29.34" stroke-width="1.22">G</text><text transform="translate(1095.53 672.7425529854239) scale(0.927 1)" font-size="29.34" stroke-width="1.16">H</text><text transform="translate(1114.19 672.7425529854239) scale(0.817 1)" font-size="29.34" stroke-width="1.23">E</text><text transform="translate(1131.06 672.7425529854239) scale(0.832 1)" font-size="29.34" stroke-width="1.22">R</text></g>
<g fill="#24211d" stroke="#24211d" stroke-width="1.11" stroke-linejoin="round"><text transform="translate(1041.34 707.4451701075582) scale(0.821 1)" font-size="29.20" stroke-width="1.22">C</text><text transform="translate(1059.06 707.4451701075582) scale(0.867 1)" font-size="29.20" stroke-width="1.19">O</text><text transform="translate(1078.52 707.4451701075582) scale(0.931 1)" font-size="29.20" stroke-width="1.15">N</text><text transform="translate(1096.92 707.4451701075582) scale(1.045 1)" font-size="29.20" stroke-width="1.09">V</text><text transform="translate(1116.99 707.4451701075582) scale(0.821 1)" font-size="29.20" stroke-width="1.22">E</text><text transform="translate(1132.57 707.4451701075582) scale(0.830 1)" font-size="29.20" stroke-width="1.21">R</text><text transform="translate(1149.84 707.4451701075582) scale(0.689 1)" font-size="29.20" stroke-width="1.31">S</text><text transform="translate(1168.95 707.4451701075582) scale(0.85 1)" x="-4.06" font-size="29.20">I</text><text transform="translate(1173.65 707.4451701075582) scale(0.797 1)" font-size="29.20" stroke-width="1.23">O</text><text transform="translate(1190.65 707.4451701075582) scale(0.753 1)" font-size="29.20" stroke-width="1.27">N</text><text transform="translate(1207.14 707.4451701075582) scale(0.689 1)" font-size="29.20" stroke-width="1.31">S</text></g>
<circle cx="1180" cy="31" r="1.0" fill="#8d8983"/>
<circle cx="736" cy="660" r="0.9" fill="#8d8983"/>
<circle cx="1236" cy="465" r="0.8" fill="#8d8983"/>
<circle cx="706" cy="660" r="0.6" fill="#8d8983"/>
</svg>
</body></html>
